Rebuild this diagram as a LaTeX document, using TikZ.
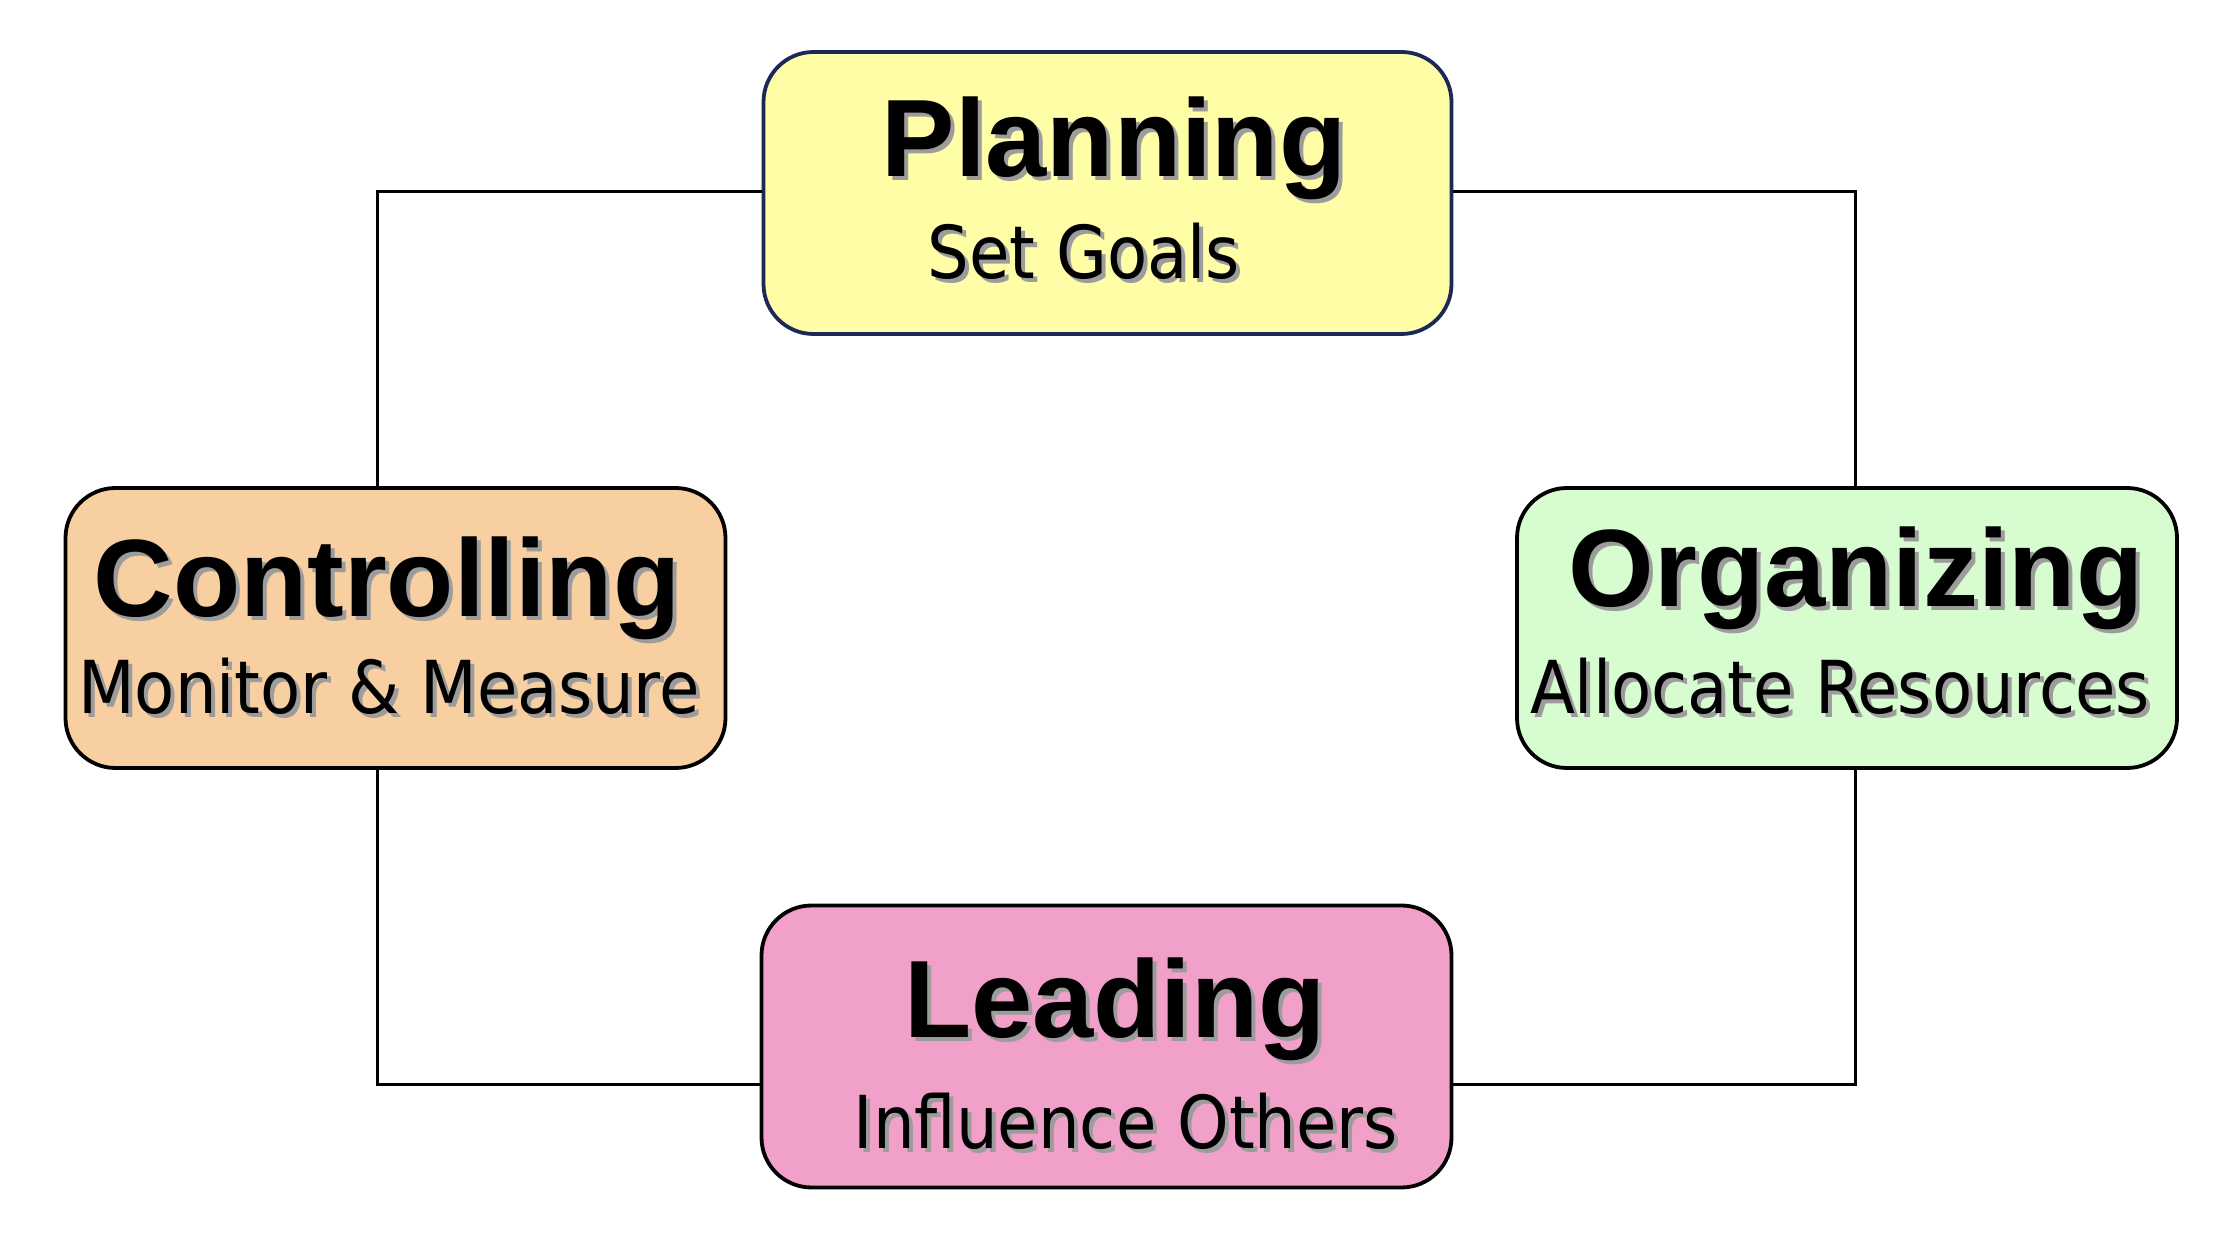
\documentclass[tikz,border=0pt]{standalone}
\usepackage{fontspec}
\setmainfont{Liberation Sans}
\newfontfamily\subfont{DejaVu Sans Condensed}
\definecolor{planfill}{HTML}{FFFDA6}
\definecolor{planedge}{HTML}{1C2858}
\definecolor{ctrlfill}{HTML}{F7CFA0}
\definecolor{orgfill}{HTML}{D6FCD0}
\definecolor{leadfill}{HTML}{F1A0C9}
\definecolor{shadowgray}{HTML}{9C9C9C}
\newcommand\shtxt[1]{\leavevmode\rlap{\kern2pt\raisebox{-2pt}{\color{shadowgray}#1}}#1}
\tikzset{
  box/.style={draw=black, line width=1.9pt, rounded corners=25pt, inner sep=0pt,
    minimum width=344pt, minimum height=141pt},
  ttl/.style={anchor=base, inner sep=0pt, font=\fontsize{55}{60}\selectfont\bfseries},
  sub/.style={anchor=base, inner sep=0pt, font=\subfont\fontsize{36.5}{40}\selectfont},
  link/.style={draw=black, line width=1.5pt}
}
\begin{document}
\begin{tikzpicture}[x=0.5pt, y=-0.5pt]
\useasboundingbox (0,0) rectangle (2240,1256);
\fill[white] (0,0) rectangle (2240,1256);
\coordinate (lx) at (377,0);
\coordinate (rx) at (1855,0);
\coordinate (topy) at (0,192);
\coordinate (boty) at (0,1084);
\node[box, fill=planfill, draw=planedge] (plan) at (1107.5,193) {};
\node[box, fill=ctrlfill, minimum width=330pt, minimum height=140pt] (ctrl) at (395.5,628) {};
\node[box, fill=orgfill, minimum width=330pt, minimum height=140pt] (org) at (1847,628) {};
\node[box, fill=leadfill, minimum width=345pt] (lead) at (1106.5,1046.5) {};
\draw[link] (plan.west |- topy) -| (ctrl.north -| lx);
\draw[link] (plan.east |- topy) -| (org.north -| rx);
\draw[link] (lead.west |- boty) -| (ctrl.south -| lx);
\draw[link] (lead.east |- boty) -| (org.south -| rx);
\node[ttl] (plant) at (1114,177) {\shtxt{Planning}};
\node[sub] (plans) at (1084,279) {\shtxt{Set Goals}};
\node[ttl] (ctrlt) at (387,617) {\shtxt{Controlling}};
\node[sub] (ctrls) at (389,714) {\shtxt{Monitor \& Measure}};
\node[ttl] (orgt) at (1856,607) {\shtxt{Organizing}};
\node[sub] (orgs) at (1840,714) {\shtxt{Allocate Resources}};
\node[ttl] (leadt) at (1115,1037) {\shtxt{Leading}};
\node[sub] (leads) at (1126,1148) {\shtxt{Influence Others}};
\end{tikzpicture}
\end{document}
